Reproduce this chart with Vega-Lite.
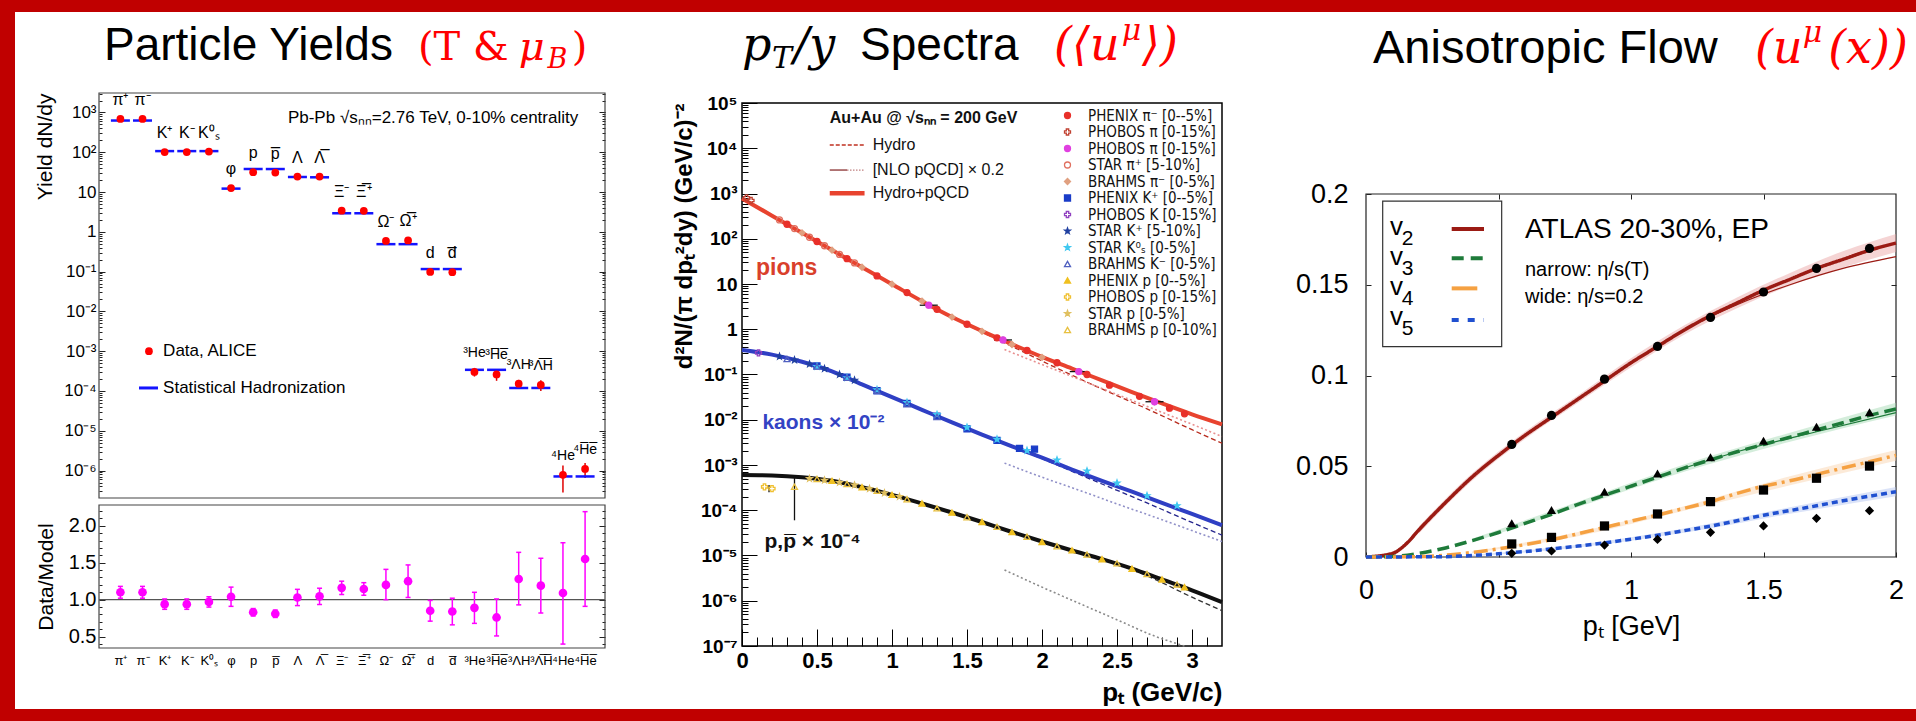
{
"$schema":"https://vega.github.io/schema/vega-lite/v6.json",
"width":1916,"height":721,
"autosize":{"type":"fit","contains":"padding"},
"padding":0,
"background":"white",
"config":{
 "view":{"stroke":null},
 "axis":{"domain":false,"grid":false,"labelColor":"#000","tickColor":"#222","titleColor":"#000","labelFont":"Liberation Sans","titleFont":"Liberation Sans","titleFontWeight":"normal","labelOverlap":false,"labelFlush":false,"labelBound":false},
 "text":{"font":"Liberation Sans","color":"#000"}
},
"data":{"name":"one"},
"datasets":{
 "one":[{}],
 "p1":[
  {"i":0,"name":"π⁺","d":690,"lo":690,"hi":690,"m":628,"r":1.10,"rlo":1.02,"rhi":1.18},
  {"i":1,"name":"π⁻","d":690,"lo":690,"hi":690,"m":628,"r":1.10,"rlo":1.02,"rhi":1.18},
  {"i":2,"name":"K⁺","d":101,"lo":101,"hi":101,"m":107,"r":0.94,"rlo":0.87,"rhi":1.01},
  {"i":3,"name":"K⁻","d":101,"lo":101,"hi":101,"m":107,"r":0.94,"rlo":0.87,"rhi":1.01},
  {"i":4,"name":"K⁰ₛ","d":104,"lo":104,"hi":104,"m":107,"r":0.97,"rlo":0.90,"rhi":1.04},
  {"i":5,"name":"φ","d":12.6,"lo":12.6,"hi":12.6,"m":12.2,"r":1.04,"rlo":0.91,"rhi":1.17},
  {"i":6,"name":"p","d":31.5,"lo":31.5,"hi":31.5,"m":37.9,"r":0.83,"rlo":0.78,"rhi":0.88},
  {"i":7,"name":"p\u0305","d":30.8,"lo":30.8,"hi":30.8,"m":37.9,"r":0.81,"rlo":0.76,"rhi":0.86},
  {"i":8,"name":"Λ","d":24.6,"lo":24.6,"hi":24.6,"m":23.9,"r":1.03,"rlo":0.92,"rhi":1.14},
  {"i":9,"name":"Λ\u0305","d":24.6,"lo":24.6,"hi":24.6,"m":23.5,"r":1.045,"rlo":0.935,"rhi":1.155},
  {"i":10,"name":"Ξ⁻","d":3.39,"lo":3.39,"hi":3.39,"m":2.93,"r":1.16,"rlo":1.07,"rhi":1.25},
  {"i":11,"name":"Ξ\u0305⁺","d":3.37,"lo":3.37,"hi":3.37,"m":2.93,"r":1.145,"rlo":1.06,"rhi":1.23},
  {"i":12,"name":"Ω⁻","d":0.59,"lo":0.59,"hi":0.59,"m":0.49,"r":1.20,"rlo":1.0,"rhi":1.41},
  {"i":13,"name":"Ω\u0305⁺","d":0.61,"lo":0.61,"hi":0.61,"m":0.49,"r":1.25,"rlo":1.03,"rhi":1.47},
  {"i":14,"name":"d","d":0.098,"lo":0.098,"hi":0.098,"m":0.116,"r":0.85,"rlo":0.71,"rhi":0.99},
  {"i":15,"name":"d\u0305","d":0.097,"lo":0.097,"hi":0.097,"m":0.116,"r":0.84,"rlo":0.66,"rhi":1.02},
  {"i":16,"name":"³He","d":3.0e-4,"lo":2.3e-4,"hi":3.8e-4,"m":3.4e-4,"r":0.89,"rlo":0.68,"rhi":1.10},
  {"i":17,"name":"³H\u0305e\u0305","d":2.6e-4,"lo":1.8e-4,"hi":3.5e-4,"m":3.4e-4,"r":0.76,"rlo":0.51,"rhi":1.01},
  {"i":18,"name":"³ΛH","d":1.52e-4,"lo":1.15e-4,"hi":1.9e-4,"m":1.19e-4,"r":1.28,"rlo":0.93,"rhi":1.64},
  {"i":19,"name":"³Λ\u0305H\u0305","d":1.42e-4,"lo":1.0e-4,"hi":1.85e-4,"m":1.19e-4,"r":1.19,"rlo":0.82,"rhi":1.56},
  {"i":20,"name":"⁴He","d":7.8e-7,"lo":2.8e-7,"hi":1.33e-6,"m":7.1e-7,"r":1.09,"rlo":0.40,"rhi":1.77},
  {"i":21,"name":"⁴H\u0305e\u0305","d":1.1e-6,"lo":6.5e-7,"hi":1.55e-6,"m":7.1e-7,"r":1.55,"rlo":0.91,"rhi":2.19}
 ],
 "curves":[
  {"sp":"pic","pt":0,"v":776},{"sp":"pic","pt":0.2,"v":324},{"sp":"pic","pt":0.4,"v":135},{"sp":"pic","pt":0.6,"v":56.2},{"sp":"pic","pt":0.8,"v":23.4},{"sp":"pic","pt":1.0,"v":9.89},{"sp":"pic","pt":1.2,"v":4.17},{"sp":"pic","pt":1.4,"v":1.86},{"sp":"pic","pt":1.6,"v":0.912},{"sp":"pic","pt":1.8,"v":0.468},{"sp":"pic","pt":2.0,"v":0.245},{"sp":"pic","pt":2.2,"v":0.135},{"sp":"pic","pt":2.4,"v":0.0741},{"sp":"pic","pt":2.6,"v":0.0407},{"sp":"pic","pt":2.8,"v":0.0229},{"sp":"pic","pt":3.0,"v":0.0132},{"sp":"pic","pt":3.2,"v":0.00794},
  {"sp":"kc","pt":0,"v":0.347},{"sp":"kc","pt":0.2,"v":0.275},{"sp":"kc","pt":0.4,"v":0.191},{"sp":"kc","pt":0.6,"v":0.117},{"sp":"kc","pt":0.8,"v":0.0603},{"sp":"kc","pt":1.0,"v":0.0316},{"sp":"kc","pt":1.2,"v":0.0166},{"sp":"kc","pt":1.4,"v":0.00871},{"sp":"kc","pt":1.6,"v":0.00468},{"sp":"kc","pt":1.8,"v":0.00257},{"sp":"kc","pt":2.0,"v":0.00145},{"sp":"kc","pt":2.2,"v":0.000794},{"sp":"kc","pt":2.4,"v":0.000447},{"sp":"kc","pt":2.6,"v":0.000257},{"sp":"kc","pt":2.8,"v":0.000145},{"sp":"kc","pt":3.0,"v":8.32e-5},{"sp":"kc","pt":3.2,"v":4.68e-5},
  {"sp":"pc","pt":0,"v":6.03e-4},{"sp":"pc","pt":0.2,"v":5.89e-4},{"sp":"pc","pt":0.4,"v":5.37e-4},{"sp":"pc","pt":0.6,"v":4.47e-4},{"sp":"pc","pt":0.8,"v":3.24e-4},{"sp":"pc","pt":1.0,"v":2.19e-4},{"sp":"pc","pt":1.2,"v":1.41e-4},{"sp":"pc","pt":1.4,"v":8.91e-5},{"sp":"pc","pt":1.6,"v":5.5e-5},{"sp":"pc","pt":1.8,"v":3.31e-5},{"sp":"pc","pt":2.0,"v":2.04e-5},{"sp":"pc","pt":2.2,"v":1.29e-5},{"sp":"pc","pt":2.4,"v":8.32e-6},{"sp":"pc","pt":2.6,"v":5.13e-6},{"sp":"pc","pt":2.8,"v":2.95e-6},{"sp":"pc","pt":3.0,"v":1.7e-6},{"sp":"pc","pt":3.2,"v":9.33e-7}
 ],
 "hydro":[
  {"sp":"pih","pt":1.2,"v":4.17},{"sp":"pih","pt":1.5,"v":1.26},{"sp":"pih","pt":1.8,"v":0.417},{"sp":"pih","pt":2.1,"v":0.138},{"sp":"pih","pt":2.4,"v":0.0479},{"sp":"pih","pt":2.7,"v":0.0174},{"sp":"pih","pt":3.0,"v":0.00603},{"sp":"pih","pt":3.2,"v":0.00302},
  {"sp":"kh","pt":1.6,"v":0.00468},{"sp":"kh","pt":1.8,"v":0.00257},{"sp":"kh","pt":2.1,"v":0.001},{"sp":"kh","pt":2.4,"v":0.00038},{"sp":"kh","pt":2.7,"v":0.000145},{"sp":"kh","pt":3.0,"v":5.37e-5},{"sp":"kh","pt":3.2,"v":2.82e-5},
  {"sp":"ph","pt":2.2,"v":1.29e-5},{"sp":"ph","pt":2.4,"v":8.32e-6},{"sp":"ph","pt":2.7,"v":3.55e-6},{"sp":"ph","pt":3.0,"v":1.2e-6},{"sp":"ph","pt":3.2,"v":6.03e-7}
 ],
 "pqcd":[
  {"sp":"piq","pt":1.75,"v":0.355},{"sp":"piq","pt":2.0,"v":0.166},{"sp":"piq","pt":2.25,"v":0.0776},{"sp":"piq","pt":2.5,"v":0.0363},{"sp":"piq","pt":2.75,"v":0.017},{"sp":"piq","pt":3.0,"v":0.00794},{"sp":"piq","pt":3.2,"v":0.00427},
  {"sp":"kq","pt":1.75,"v":0.0011},{"sp":"kq","pt":2.0,"v":0.000537},{"sp":"kq","pt":2.25,"v":0.000275},{"sp":"kq","pt":2.5,"v":0.000138},{"sp":"kq","pt":2.75,"v":7.08e-5},{"sp":"kq","pt":3.0,"v":3.55e-5},{"sp":"kq","pt":3.2,"v":2.04e-5},
  {"sp":"pq","pt":1.75,"v":4.79e-6},{"sp":"pq","pt":2.0,"v":2.0e-6},{"sp":"pq","pt":2.25,"v":8.7e-7},{"sp":"pq","pt":2.5,"v":3.8e-7},{"sp":"pq","pt":2.75,"v":1.66e-7},{"sp":"pq","pt":2.95,"v":1.0e-7}
 ],
 "pts":[
  {"e":1,"pt":0.3,"v":209},{"e":1,"pt":0.5,"v":87},{"e":1,"pt":0.7,"v":36.3},{"e":1,"pt":0.9,"v":15.1},{"e":1,"pt":1.1,"v":6.46},{"e":1,"pt":1.3,"v":2.75},{"e":1,"pt":1.5,"v":1.29},{"e":1,"pt":1.7,"v":0.646},{"e":1,"pt":1.9,"v":0.339},{"e":1,"pt":2.1,"v":0.182},{"e":1,"pt":2.3,"v":0.1},{"e":1,"pt":2.45,"v":0.058},{"e":1,"pt":2.65,"v":0.033},{"e":1,"pt":2.85,"v":0.018},{"e":1,"pt":2.95,"v":0.0135},
  {"e":2,"pt":0.03,"v":800},{"e":2,"pt":0.06,"v":700},
  {"e":3,"pt":1.245,"v":3.4},{"e":3,"pt":1.74,"v":0.58},{"e":3,"pt":2.245,"v":0.116},{"e":3,"pt":2.75,"v":0.025},
  {"e":4,"pt":0.25,"v":260},{"e":4,"pt":0.35,"v":168},{"e":4,"pt":0.45,"v":108},{"e":4,"pt":0.55,"v":70},{"e":4,"pt":0.65,"v":45},{"e":4,"pt":0.75,"v":29.2},
  {"e":5,"pt":0.4,"v":135},{"e":5,"pt":0.6,"v":56},{"e":5,"pt":0.8,"v":23.4},{"e":5,"pt":1.0,"v":9.9},{"e":5,"pt":1.2,"v":4.2},{"e":5,"pt":1.4,"v":1.86},{"e":5,"pt":1.6,"v":0.9},{"e":5,"pt":1.8,"v":0.46},{"e":5,"pt":2.0,"v":0.24},
  {"e":6,"pt":0.5,"v":0.155},{"e":6,"pt":0.7,"v":0.087},{"e":6,"pt":0.9,"v":0.0437},{"e":6,"pt":1.1,"v":0.0229},{"e":6,"pt":1.3,"v":0.012},{"e":6,"pt":1.5,"v":0.0063},{"e":6,"pt":1.7,"v":0.0035},{"e":6,"pt":1.85,"v":0.00234},{"e":6,"pt":1.95,"v":0.00224},
  {"e":7,"pt":0.11,"v":0.3},
  {"e":8,"pt":0.25,"v":0.25},{"e":8,"pt":0.35,"v":0.21},{"e":8,"pt":0.45,"v":0.17},{"e":8,"pt":0.55,"v":0.135},{"e":8,"pt":0.65,"v":0.1},{"e":8,"pt":0.75,"v":0.075},
  {"e":9,"pt":0.5,"v":0.15},{"e":9,"pt":0.7,"v":0.085},{"e":9,"pt":0.9,"v":0.046},{"e":9,"pt":1.1,"v":0.024},{"e":9,"pt":1.3,"v":0.013},{"e":9,"pt":1.5,"v":0.0068},{"e":9,"pt":1.7,"v":0.0037},{"e":9,"pt":1.9,"v":0.0021},{"e":9,"pt":2.1,"v":0.00129},{"e":9,"pt":2.3,"v":0.00074},{"e":9,"pt":2.5,"v":0.0004},{"e":9,"pt":2.7,"v":0.00021},{"e":9,"pt":2.9,"v":0.000126},
  {"e":10,"pt":0.3,"v":0.22},{"e":10,"pt":0.5,"v":0.15},{"e":10,"pt":0.7,"v":0.085},{"e":10,"pt":0.9,"v":0.044},{"e":10,"pt":1.1,"v":0.022},{"e":10,"pt":1.3,"v":0.0115},
  {"e":11,"pt":0.6,"v":4.47e-4},{"e":11,"pt":0.8,"v":3.24e-4},{"e":11,"pt":1.0,"v":2.19e-4},{"e":11,"pt":1.2,"v":1.41e-4},{"e":11,"pt":1.4,"v":8.9e-5},{"e":11,"pt":1.6,"v":5.5e-5},{"e":11,"pt":1.8,"v":3.3e-5},{"e":11,"pt":2.0,"v":2.0e-5},{"e":11,"pt":2.2,"v":1.3e-5},{"e":11,"pt":2.4,"v":8.3e-6},{"e":11,"pt":2.6,"v":5.1e-6},{"e":11,"pt":2.8,"v":2.95e-6},{"e":11,"pt":2.95,"v":2.0e-6},
  {"e":12,"pt":0.15,"v":3.3e-4},{"e":12,"pt":0.2,"v":3.0e-4},
  {"e":13,"pt":0.45,"v":5.0e-4},{"e":13,"pt":0.55,"v":4.6e-4},{"e":13,"pt":0.65,"v":4.1e-4},{"e":13,"pt":0.75,"v":3.6e-4},{"e":13,"pt":0.85,"v":3.0e-4},{"e":13,"pt":0.95,"v":2.4e-4},{"e":13,"pt":1.05,"v":2.0e-4},
  {"e":14,"pt":0.5,"v":4.9e-4},{"e":14,"pt":0.7,"v":3.8e-4},{"e":14,"pt":0.9,"v":2.7e-4},{"e":14,"pt":1.1,"v":1.75e-4},{"e":14,"pt":1.3,"v":1.1e-4},{"e":14,"pt":1.5,"v":7e-5},{"e":14,"pt":1.7,"v":4.3e-5},{"e":14,"pt":1.9,"v":2.6e-5},{"e":14,"pt":2.1,"v":1.6e-5},{"e":14,"pt":2.3,"v":1.05e-5},{"e":14,"pt":2.5,"v":6.7e-6},{"e":14,"pt":2.7,"v":3.9e-6},{"e":14,"pt":2.9,"v":2.3e-6},{"e":14,"pt":0.35,"v":3.3e-4}
 ],
 "perr":[
  {"pt":1.245,"xlo":1.185,"xhi":1.305,"v":3.4,"lo":2.9,"hi":3.95},
  {"pt":1.74,"xlo":1.68,"xhi":1.8,"v":0.58,"lo":0.49,"hi":0.68},
  {"pt":2.245,"xlo":2.185,"xhi":2.305,"v":0.116,"lo":0.098,"hi":0.136},
  {"pt":2.75,"xlo":2.69,"xhi":2.81,"v":0.025,"lo":0.021,"hi":0.03},
  {"pt":0.35,"xlo":0.35,"xhi":0.35,"v":3.3e-4,"lo":6e-5,"hi":6e-4},
  {"pt":0.18,"xlo":0.18,"xhi":0.18,"v":3.0e-4,"lo":2.5e-4,"hi":3.6e-4}
 ],
 "fpts":[
  {"n":"v2","pt":0.55,"v":0.062},{"n":"v2","pt":0.7,"v":0.078},{"n":"v2","pt":0.9,"v":0.098},{"n":"v2","pt":1.1,"v":0.116},{"n":"v2","pt":1.3,"v":0.132},{"n":"v2","pt":1.5,"v":0.146},{"n":"v2","pt":1.7,"v":0.159},{"n":"v2","pt":1.9,"v":0.170},
  {"n":"v3","pt":0.55,"v":0.0186},{"n":"v3","pt":0.7,"v":0.0259},{"n":"v3","pt":0.9,"v":0.036},{"n":"v3","pt":1.1,"v":0.046},{"n":"v3","pt":1.3,"v":0.055},{"n":"v3","pt":1.5,"v":0.064},{"n":"v3","pt":1.7,"v":0.0718},{"n":"v3","pt":1.9,"v":0.0797},
  {"n":"v4","pt":0.55,"v":0.0072},{"n":"v4","pt":0.7,"v":0.0108},{"n":"v4","pt":0.9,"v":0.0171},{"n":"v4","pt":1.1,"v":0.0237},{"n":"v4","pt":1.3,"v":0.0305},{"n":"v4","pt":1.5,"v":0.0369},{"n":"v4","pt":1.7,"v":0.0434},{"n":"v4","pt":1.9,"v":0.0501},
  {"n":"v5","pt":0.55,"v":0.002},{"n":"v5","pt":0.7,"v":0.0033},{"n":"v5","pt":0.9,"v":0.0066},{"n":"v5","pt":1.1,"v":0.0097},{"n":"v5","pt":1.3,"v":0.0136},{"n":"v5","pt":1.5,"v":0.0171},{"n":"v5","pt":1.7,"v":0.0213},{"n":"v5","pt":1.9,"v":0.0255}
 ],
 "flines":[
  {"n":"v2","pt":0,"v":0},{"n":"v2","pt":0.1,"v":0.002},{"n":"v2","pt":0.15,"v":0.007},{"n":"v2","pt":0.2,"v":0.015},{"n":"v2","pt":0.3,"v":0.030},{"n":"v2","pt":0.4,"v":0.044},{"n":"v2","pt":0.5,"v":0.056},{"n":"v2","pt":0.6,"v":0.067},{"n":"v2","pt":0.7,"v":0.077},{"n":"v2","pt":0.8,"v":0.087},{"n":"v2","pt":0.9,"v":0.097},{"n":"v2","pt":1.0,"v":0.107},{"n":"v2","pt":1.1,"v":0.116},{"n":"v2","pt":1.2,"v":0.125},{"n":"v2","pt":1.3,"v":0.133},{"n":"v2","pt":1.4,"v":0.140},{"n":"v2","pt":1.5,"v":0.147},{"n":"v2","pt":1.6,"v":0.153},{"n":"v2","pt":1.7,"v":0.159},{"n":"v2","pt":1.8,"v":0.164},{"n":"v2","pt":1.9,"v":0.169},{"n":"v2","pt":2.0,"v":0.173},
  {"n":"v3","pt":0,"v":0},{"n":"v3","pt":0.1,"v":0.0003},{"n":"v3","pt":0.2,"v":0.002},{"n":"v3","pt":0.3,"v":0.005},{"n":"v3","pt":0.4,"v":0.009},{"n":"v3","pt":0.5,"v":0.0135},{"n":"v3","pt":0.6,"v":0.0185},{"n":"v3","pt":0.7,"v":0.0235},{"n":"v3","pt":0.8,"v":0.029},{"n":"v3","pt":0.9,"v":0.034},{"n":"v3","pt":1.0,"v":0.039},{"n":"v3","pt":1.1,"v":0.044},{"n":"v3","pt":1.2,"v":0.049},{"n":"v3","pt":1.3,"v":0.0535},{"n":"v3","pt":1.4,"v":0.058},{"n":"v3","pt":1.5,"v":0.062},{"n":"v3","pt":1.6,"v":0.066},{"n":"v3","pt":1.7,"v":0.070},{"n":"v3","pt":1.8,"v":0.074},{"n":"v3","pt":1.9,"v":0.078},{"n":"v3","pt":2.0,"v":0.0815},
  {"n":"v4","pt":0,"v":0},{"n":"v4","pt":0.2,"v":0.0002},{"n":"v4","pt":0.3,"v":0.001},{"n":"v4","pt":0.4,"v":0.0025},{"n":"v4","pt":0.5,"v":0.0045},{"n":"v4","pt":0.6,"v":0.0068},{"n":"v4","pt":0.7,"v":0.0095},{"n":"v4","pt":0.8,"v":0.0128},{"n":"v4","pt":0.9,"v":0.0163},{"n":"v4","pt":1.0,"v":0.0198},{"n":"v4","pt":1.1,"v":0.0231},{"n":"v4","pt":1.2,"v":0.0268},{"n":"v4","pt":1.3,"v":0.0305},{"n":"v4","pt":1.4,"v":0.035},{"n":"v4","pt":1.5,"v":0.039},{"n":"v4","pt":1.6,"v":0.042},{"n":"v4","pt":1.7,"v":0.0455},{"n":"v4","pt":1.8,"v":0.049},{"n":"v4","pt":1.9,"v":0.0525},{"n":"v4","pt":2.0,"v":0.056},
  {"n":"v5","pt":0,"v":0},{"n":"v5","pt":0.3,"v":0.0002},{"n":"v5","pt":0.4,"v":0.0008},{"n":"v5","pt":0.5,"v":0.0018},{"n":"v5","pt":0.6,"v":0.003},{"n":"v5","pt":0.7,"v":0.0045},{"n":"v5","pt":0.8,"v":0.006},{"n":"v5","pt":0.9,"v":0.0078},{"n":"v5","pt":1.0,"v":0.0098},{"n":"v5","pt":1.1,"v":0.012},{"n":"v5","pt":1.2,"v":0.0145},{"n":"v5","pt":1.3,"v":0.017},{"n":"v5","pt":1.4,"v":0.020},{"n":"v5","pt":1.5,"v":0.023},{"n":"v5","pt":1.6,"v":0.0256},{"n":"v5","pt":1.7,"v":0.0282},{"n":"v5","pt":1.8,"v":0.031},{"n":"v5","pt":1.9,"v":0.0335},{"n":"v5","pt":2.0,"v":0.036}
 ],
 "fnarrow":[
  {"n":"n2","pt":1.0,"v":0.107},{"n":"n2","pt":1.2,"v":0.125},{"n":"n2","pt":1.4,"v":0.139},{"n":"n2","pt":1.6,"v":0.150},{"n":"n2","pt":1.8,"v":0.159},{"n":"n2","pt":2.0,"v":0.1655},
  {"n":"n3","pt":1.2,"v":0.049},{"n":"n3","pt":1.4,"v":0.058},{"n":"n3","pt":1.7,"v":0.069},{"n":"n3","pt":2.0,"v":0.0795}
 ],
 "fband":[
  {"n":"b2","pt":0.2,"lo":0.013,"hi":0.017},{"n":"b2","pt":0.4,"lo":0.042,"hi":0.046},{"n":"b2","pt":0.6,"lo":0.065,"hi":0.069},{"n":"b2","pt":0.8,"lo":0.085,"hi":0.089},{"n":"b2","pt":1.0,"lo":0.1045,"hi":0.1095},{"n":"b2","pt":1.2,"lo":0.1225,"hi":0.1275},{"n":"b2","pt":1.4,"lo":0.137,"hi":0.143},{"n":"b2","pt":1.6,"lo":0.1495,"hi":0.1565},{"n":"b2","pt":1.8,"lo":0.1595,"hi":0.1685},{"n":"b2","pt":2.0,"lo":0.168,"hi":0.178},
  {"n":"b3","pt":0.4,"lo":0.008,"hi":0.010},{"n":"b3","pt":0.8,"lo":0.0275,"hi":0.0305},{"n":"b3","pt":1.2,"lo":0.047,"hi":0.051},{"n":"b3","pt":1.6,"lo":0.0635,"hi":0.0685},{"n":"b3","pt":2.0,"lo":0.078,"hi":0.085},
  {"n":"b4","pt":0.4,"lo":0.002,"hi":0.003},{"n":"b4","pt":0.8,"lo":0.0115,"hi":0.0138},{"n":"b4","pt":1.2,"lo":0.0255,"hi":0.028},{"n":"b4","pt":1.6,"lo":0.0395,"hi":0.0445},{"n":"b4","pt":2.0,"lo":0.053,"hi":0.059},
  {"n":"b5","pt":0.4,"lo":0.0004,"hi":0.0012},{"n":"b5","pt":0.8,"lo":0.0052,"hi":0.0068},{"n":"b5","pt":1.2,"lo":0.0133,"hi":0.0157},{"n":"b5","pt":1.6,"lo":0.0238,"hi":0.0274},{"n":"b5","pt":2.0,"lo":0.0335,"hi":0.0385}
 ]
},
"layer":[
 {
  "layer":[
   {
    "layer":[
     {"mark":{"type":"rect","fillOpacity":0,"stroke":"#444","strokeWidth":1.2},
      "encoding":{"x":{"datum":-0.967,"scale":{"domain":[-0.967,21.9],"range":[99,605],"nice":false,"zero":false},"axis":null},"x2":{"datum":21.9},
       "y":{"datum":2.04e-7,"scale":{"type":"log","domain":[2.04e-7,3090],"range":[498,93],"nice":false},"axis":{"orient":"left","offset":-102,"tickSize":3,"tickCount":100,"labels":false,"title":null}},"y2":{"datum":3090}}},
     {"data":{"name":"p1"},"mark":{"type":"rule","color":"#e00000","strokeWidth":1.5},
      "encoding":{"x":{"field":"i","type":"quantitative","scale":{"domain":[-0.967,21.9],"range":[99,605],"nice":false,"zero":false},"axis":null},
       "y":{"field":"lo","type":"quantitative","scale":{"type":"log","domain":[2.04e-7,3090],"range":[498,93],"nice":false},"axis":{"orient":"left","offset":-105,"tickSize":6,"values":[1e-6,1e-5,1e-4,0.001,0.01,0.1,1,10,100,1000],"labelExpr":"['10⁻⁶','10⁻⁵','10⁻⁴','10⁻³','10⁻²','10⁻¹','1','10','10²','10³'][round(log(datum.value)/LN10)+6]","labelFontSize":17,"labelPadding":3,"title":"Yield dN/dy","titleFontSize":21,"titleAnchor":"end","titlePadding":8}},"y2":{"field":"hi"}}},
     {"data":{"name":"p1"},"mark":{"type":"tick","orient":"horizontal","color":"#1414ff","thickness":2.5,"size":19,"opacity":1},
      "encoding":{"x":{"field":"i","type":"quantitative","scale":{"domain":[-0.967,21.9],"range":[99,605],"nice":false,"zero":false},"axis":null},
       "y":{"field":"m","type":"quantitative","scale":{"type":"log","domain":[2.04e-7,3090],"range":[498,93],"nice":false},"axis":null}}},
     {"data":{"name":"p1"},"mark":{"type":"circle","color":"#ff0000","size":60,"opacity":1},
      "encoding":{"x":{"field":"i","type":"quantitative","scale":{"domain":[-0.967,21.9],"range":[99,605],"nice":false,"zero":false},"axis":null},
       "y":{"field":"d","type":"quantitative","scale":{"type":"log","domain":[2.04e-7,3090],"range":[498,93],"nice":false},"axis":null}}},
     {"data":{"name":"p1"},"mark":{"type":"text","dy":-19,"baseline":"middle"},
      "encoding":{"x":{"field":"i","type":"quantitative","scale":{"domain":[-0.967,21.9],"range":[99,605],"nice":false,"zero":false},"axis":null},
       "y":{"field":"d","type":"quantitative","scale":{"type":"log","domain":[2.04e-7,3090],"range":[498,93],"nice":false},"axis":null},"text":{"field":"name"},
       "size":{"condition":{"test":"datum.i >= 16","value":14},"value":16}}},
     {"mark":{"type":"text","fontSize":17,"align":"right","baseline":"middle"},
      "encoding":{"x":{"datum":20.69,"scale":{"domain":[-0.967,21.9],"range":[99,605],"nice":false,"zero":false},"axis":null},
       "y":{"datum":736,"scale":{"type":"log","domain":[2.04e-7,3090],"range":[498,93],"nice":false},"axis":{"orient":"right","offset":-1314,"tickSize":3,"tickCount":100,"labels":false,"title":null}},"text":{"value":"Pb-Pb √sₙₙ=2.76 TeV, 0-10% centrality"}}},
     {"mark":{"type":"circle","color":"#ff0000","size":60,"opacity":1},
      "encoding":{"x":{"datum":1.29,"scale":{"domain":[-0.967,21.9],"range":[99,605],"nice":false,"zero":false},"axis":null},
       "y":{"datum":0.001,"scale":{"type":"log","domain":[2.04e-7,3090],"range":[498,93],"nice":false},"axis":{"orient":"right","offset":-1317,"tickSize":6,"values":[1e-6,1e-5,1e-4,0.001,0.01,0.1,1,10,100,1000],"labels":false,"title":null}}}},
     {"mark":{"type":"text","fontSize":17,"align":"left","baseline":"middle"},
      "encoding":{"x":{"datum":1.93,"scale":{"domain":[-0.967,21.9],"range":[99,605],"nice":false,"zero":false},"axis":null},
       "y":{"datum":0.001,"scale":{"type":"log","domain":[2.04e-7,3090],"range":[498,93],"nice":false},"axis":null},"text":{"value":"Data, ALICE"}}},
     {"mark":{"type":"rule","color":"#1414ff","strokeWidth":3},
      "encoding":{"x":{"datum":0.84,"scale":{"domain":[-0.967,21.9],"range":[99,605],"nice":false,"zero":false},"axis":null},"x2":{"datum":1.7},
       "y":{"datum":1.19e-4,"scale":{"type":"log","domain":[2.04e-7,3090],"range":[498,93],"nice":false},"axis":null}}},
     {"mark":{"type":"text","fontSize":17,"align":"left","baseline":"middle"},
      "encoding":{"x":{"datum":1.93,"scale":{"domain":[-0.967,21.9],"range":[99,605],"nice":false,"zero":false},"axis":null},
       "y":{"datum":1.19e-4,"scale":{"type":"log","domain":[2.04e-7,3090],"range":[498,93],"nice":false},"axis":null},"text":{"value":"Statistical Hadronization"}}},
     {"mark":{"type":"text","fontSize":46,"align":"left","baseline":"alphabetic"},
      "encoding":{"x":{"datum":-0.741,"scale":{"domain":[-0.967,21.9],"range":[99,605],"nice":false,"zero":false},"axis":null},
       "y":{"datum":21090,"scale":{"type":"log","domain":[2.04e-7,3090],"range":[498,93],"nice":false},"axis":null},"text":{"value":"Particle Yields"}}},
     {"mark":{"type":"text","fontSize":40,"align":"left","baseline":"alphabetic","font":"DejaVu Serif","color":"#ff0000"},
      "encoding":{"x":{"datum":13.45,"scale":{"domain":[-0.967,21.9],"range":[99,605],"nice":false,"zero":false},"axis":null},
       "y":{"datum":21090,"scale":{"type":"log","domain":[2.04e-7,3090],"range":[498,93],"nice":false},"axis":null},"text":{"value":"(T &"}}},
     {"mark":{"type":"text","fontSize":40,"align":"left","baseline":"alphabetic","font":"DejaVu Serif","fontStyle":"italic","color":"#ff0000"},
      "encoding":{"x":{"datum":18.0,"scale":{"domain":[-0.967,21.9],"range":[99,605],"nice":false,"zero":false},"axis":null},
       "y":{"datum":21090,"scale":{"type":"log","domain":[2.04e-7,3090],"range":[498,93],"nice":false},"axis":null},"text":{"value":"μ"}}},
     {"mark":{"type":"text","fontSize":27,"align":"left","baseline":"alphabetic","font":"DejaVu Serif","fontStyle":"italic","color":"#ff0000"},
      "encoding":{"x":{"datum":19.3,"scale":{"domain":[-0.967,21.9],"range":[99,605],"nice":false,"zero":false},"axis":null},
       "y":{"datum":13270,"scale":{"type":"log","domain":[2.04e-7,3090],"range":[498,93],"nice":false},"axis":null},"text":{"value":"B"}}},
     {"mark":{"type":"text","fontSize":40,"align":"left","baseline":"alphabetic","font":"DejaVu Serif","color":"#ff0000"},
      "encoding":{"x":{"datum":20.4,"scale":{"domain":[-0.967,21.9],"range":[99,605],"nice":false,"zero":false},"axis":null},
       "y":{"datum":21090,"scale":{"type":"log","domain":[2.04e-7,3090],"range":[498,93],"nice":false},"axis":null},"text":{"value":")"}}}
    ],
    "resolve":{"axis":{"x":"independent","y":"independent"}}
   },
   {
    "layer":[
     {"mark":{"type":"rect","fillOpacity":0,"stroke":"#444","strokeWidth":1.2},
      "encoding":{"x":{"datum":-0.967,"scale":{"domain":[-0.967,21.9],"range":[99,605],"nice":false,"zero":false},"axis":{"orient":"bottom","offset":-73,"values":[0,1,2,3,4,5,6,7,8,9,10,11,12,13,14,15,16,17,18,19,20,21],"labelExpr":"['π⁺','π⁻','K⁺','K⁻','K⁰ₛ','φ','p','p\u0305','Λ','Λ\u0305','Ξ⁻','Ξ\u0305⁺','Ω⁻','Ω\u0305⁺','d','d\u0305','³He','³H\u0305e\u0305','³ΛH','³Λ\u0305H\u0305','⁴He','⁴H\u0305e\u0305'][datum.value]","ticks":false,"labelPadding":6,"labelFontSize":13,"title":null}},"x2":{"datum":21.9},
       "y":{"datum":0.347,"scale":{"domain":[0.347,2.28],"range":[648,505],"nice":false,"zero":false},"axis":{"orient":"left","offset":-102,"tickSize":3,"values":[0.4,0.6,0.7,0.8,0.9,1.1,1.2,1.3,1.4,1.6,1.7,1.8,1.9,2.1,2.2],"labels":false,"title":null}},"y2":{"datum":2.28}}},
     {"mark":{"type":"rule","color":"#555","strokeWidth":1.2},
      "encoding":{"x":{"datum":-0.967,"scale":{"domain":[-0.967,21.9],"range":[99,605],"nice":false,"zero":false},"axis":null},"x2":{"datum":21.9},
       "y":{"datum":1,"scale":{"domain":[0.347,2.28],"range":[648,505],"nice":false,"zero":false},"axis":{"orient":"left","offset":-105,"tickSize":6,"values":[0.5,1,1.5,2],"labelFontSize":20,"labelPadding":3,"title":"Data/Model","titleFontSize":21,"titlePadding":12}}}},
     {"data":{"name":"p1"},"mark":{"type":"rule","color":"#ff00ff","strokeWidth":1.5},
      "encoding":{"x":{"field":"i","type":"quantitative","scale":{"domain":[-0.967,21.9],"range":[99,605],"nice":false,"zero":false},"axis":null},
       "y":{"field":"rlo","type":"quantitative","scale":{"domain":[0.347,2.28],"range":[648,505],"nice":false,"zero":false},"axis":{"orient":"right","offset":-1314,"tickSize":3,"values":[0.4,0.6,0.7,0.8,0.9,1.1,1.2,1.3,1.4,1.6,1.7,1.8,1.9,2.1,2.2],"labels":false,"title":null}},"y2":{"field":"rhi"}}},
     {"data":{"name":"p1"},"mark":{"type":"tick","orient":"horizontal","color":"#ff00ff","thickness":1.5,"size":5,"opacity":1},
      "encoding":{"x":{"field":"i","type":"quantitative","scale":{"domain":[-0.967,21.9],"range":[99,605],"nice":false,"zero":false},"axis":null},
       "y":{"field":"rlo","type":"quantitative","scale":{"domain":[0.347,2.28],"range":[648,505],"nice":false,"zero":false},"axis":null}}},
     {"data":{"name":"p1"},"mark":{"type":"tick","orient":"horizontal","color":"#ff00ff","thickness":1.5,"size":5,"opacity":1},
      "encoding":{"x":{"field":"i","type":"quantitative","scale":{"domain":[-0.967,21.9],"range":[99,605],"nice":false,"zero":false},"axis":null},
       "y":{"field":"rhi","type":"quantitative","scale":{"domain":[0.347,2.28],"range":[648,505],"nice":false,"zero":false},"axis":null}}},
     {"data":{"name":"p1"},"mark":{"type":"circle","color":"#ff00ff","size":75,"opacity":1},
      "encoding":{"x":{"field":"i","type":"quantitative","scale":{"domain":[-0.967,21.9],"range":[99,605],"nice":false,"zero":false},"axis":null},
       "y":{"field":"r","type":"quantitative","scale":{"domain":[0.347,2.28],"range":[648,505],"nice":false,"zero":false},"axis":{"orient":"right","offset":-1317,"tickSize":6,"values":[0.5,1,1.5,2],"labels":false,"title":null}}}}
    ],
    "resolve":{"axis":{"x":"independent","y":"independent"}}
   }
  ],
  "resolve":{"scale":{"y":"independent"},"axis":{"x":"independent","y":"independent"}}
 },
 {
  "layer":[
   {"mark":{"type":"rect","fillOpacity":0,"stroke":"#000","strokeWidth":1.5},
    "encoding":{"x":{"datum":0,"scale":{"domain":[0,3.2],"range":[742,1222],"nice":false,"zero":false},"axis":{"orient":"bottom","offset":-84,"tickSize":9,"values":[0.1,0.2,0.3,0.4,0.6,0.7,0.8,0.9,1.1,1.2,1.3,1.4,1.6,1.7,1.8,1.9,2.1,2.2,2.3,2.4,2.6,2.7,2.8,2.9,3.1],"labels":false,"title":null,"tickColor":"#000"}},"x2":{"datum":3.2},
     "y":{"datum":1e-7,"scale":{"type":"log","domain":[1e-7,1e5],"range":[646,103],"nice":false},"axis":{"orient":"left","offset":-748,"tickSize":6,"tickCount":100,"labels":false,"title":null,"tickColor":"#000"}},"y2":{"datum":1e5}}},
   {"data":{"name":"hydro"},"mark":{"type":"line","strokeWidth":1.3,"strokeDash":[5,3],"interpolate":"monotone"},
    "encoding":{"x":{"field":"pt","type":"quantitative","scale":{"domain":[0,3.2],"range":[742,1222],"nice":false,"zero":false},"axis":null},
     "y":{"field":"v","type":"quantitative","scale":{"type":"log","domain":[1e-7,1e5],"range":[646,103],"nice":false},"axis":null},
     "color":{"field":"sp","type":"nominal","scale":{"domain":["pih","kh","ph","piq","kq","pq","pic","kc","pc"],"range":["#b82a1c","#24248c","#333333","#e89090","#9090c8","#8a8a8a","#e8432f","#2f3fc4","#111111"]},"legend":null}}},
   {"data":{"name":"pqcd"},"mark":{"type":"line","strokeWidth":1.6,"strokeDash":[2,2.5],"interpolate":"monotone"},
    "encoding":{"x":{"field":"pt","type":"quantitative","scale":{"domain":[0,3.2],"range":[742,1222],"nice":false,"zero":false},"axis":null},
     "y":{"field":"v","type":"quantitative","scale":{"type":"log","domain":[1e-7,1e5],"range":[646,103],"nice":false},"axis":null},
     "color":{"field":"sp","type":"nominal","scale":{"domain":["pih","kh","ph","piq","kq","pq","pic","kc","pc"],"range":["#b82a1c","#24248c","#333333","#e89090","#9090c8","#8a8a8a","#e8432f","#2f3fc4","#111111"]},"legend":null}}},
   {"data":{"name":"curves"},"mark":{"type":"line","strokeWidth":4,"interpolate":"monotone"},
    "encoding":{"x":{"field":"pt","type":"quantitative","scale":{"domain":[0,3.2],"range":[742,1222],"nice":false,"zero":false},"axis":{"orient":"bottom","offset":-92,"tickSize":17,"values":[0,0.5,1,1.5,2,2.5,3],"format":"~g","labelFontSize":22,"labelFontWeight":"bold","labelPadding":4,"tickColor":"#000","title":"pₜ (GeV/c)","titleFontSize":26,"titleFontWeight":"bold","titleAnchor":"end","titlePadding":8}},
     "y":{"field":"v","type":"quantitative","scale":{"type":"log","domain":[1e-7,1e5],"range":[646,103],"nice":false},"axis":{"orient":"left","offset":-757,"tickSize":15,"values":[1e-7,1e-6,1e-5,1e-4,0.001,0.01,0.1,1,10,100,1000,10000,100000],"labelExpr":"['10⁻⁷','10⁻⁶','10⁻⁵','10⁻⁴','10⁻³','10⁻²','10⁻¹','1','10','10²','10³','10⁴','10⁵'][round(log(datum.value)/LN10)+7]","labelFontSize":19,"labelFontWeight":"bold","labelPadding":5,"tickColor":"#000","title":"d²N/(π dpₜ²dy) (GeV/c)⁻²","titleFontSize":24,"titleFontWeight":"bold","titleAnchor":"end","titlePadding":4}},
     "color":{"field":"sp","type":"nominal","scale":{"domain":["pih","kh","ph","piq","kq","pq","pic","kc","pc"],"range":["#b82a1c","#24248c","#333333","#e89090","#9090c8","#8a8a8a","#e8432f","#2f3fc4","#111111"]},"legend":null}}},
   {"data":{"name":"perr"},"mark":{"type":"rule","color":"#111","strokeWidth":1.3},
    "encoding":{"x":{"field":"pt","type":"quantitative","scale":{"domain":[0,3.2],"range":[742,1222],"nice":false,"zero":false},"axis":null},
     "y":{"field":"lo","type":"quantitative","scale":{"type":"log","domain":[1e-7,1e5],"range":[646,103],"nice":false},"axis":null},"y2":{"field":"hi"}}},
   {"data":{"name":"perr"},"mark":{"type":"rule","color":"#111","strokeWidth":1.3},
    "encoding":{"x":{"field":"xlo","type":"quantitative","scale":{"domain":[0,3.2],"range":[742,1222],"nice":false,"zero":false},"axis":null},"x2":{"field":"xhi"},
     "y":{"field":"v","type":"quantitative","scale":{"type":"log","domain":[1e-7,1e5],"range":[646,103],"nice":false},"axis":null}}},
   {"data":{"name":"pts"},"mark":{"type":"point","size":36,"strokeWidth":1.3,"opacity":1},
    "encoding":{"x":{"field":"pt","type":"quantitative","scale":{"domain":[0,3.2],"range":[742,1222],"nice":false,"zero":false},"axis":null},
     "y":{"field":"v","type":"quantitative","scale":{"type":"log","domain":[1e-7,1e5],"range":[646,103],"nice":false},"axis":null},
     "shape":{"field":"e","type":"nominal","scale":{"domain":[1,2,3,4,5,6,7,8,9,10,11,12,13,14],"range":["circle","cross","circle","circle","diamond","square","cross","M0,-1L0.24,-0.33L0.95,-0.31L0.38,0.12L0.59,0.81L0,0.4L-0.59,0.81L-0.38,0.12L-0.95,-0.31L-0.24,-0.33Z","M0,-1L0.24,-0.33L0.95,-0.31L0.38,0.12L0.59,0.81L0,0.4L-0.59,0.81L-0.38,0.12L-0.95,-0.31L-0.24,-0.33Z","triangle-up","triangle-up","cross","M0,-1L0.24,-0.33L0.95,-0.31L0.38,0.12L0.59,0.81L0,0.4L-0.59,0.81L-0.38,0.12L-0.95,-0.31L-0.24,-0.33Z","triangle-up"]},
      "legend":{"orient":"none","legendX":1060,"legendY":108,"title":null,"labelExpr":"['','PHENIX π⁻ [0--5%]','PHOBOS π [0-15%]','PHOBOS π [0-15%]','STAR π⁺ [5-10%]','BRAHMS π⁻ [0-5%]','PHENIX K⁺ [0--5%]','PHOBOS K [0-15%]','STAR K⁺ [5-10%]','STAR K⁰ₛ [0-5%]','BRAHMS K⁻ [0-5%]','PHENIX p [0--5%]','PHOBOS p [0-15%]','STAR p [0-5%]','BRAHMS p [0-10%]'][datum.value]","labelFontSize":15,"labelFont":"Liberation Sans Narrow, DejaVu Sans Condensed, Liberation Sans","labelColor":"#111","symbolSize":36,"symbolStrokeWidth":1.3,"rowPadding":0.5,"labelOffset":13,"labelLimit":400,"padding":0}},
     "fill":{"field":"e","type":"nominal","scale":{"domain":[1,2,3,4,5,6,7,8,9,10,11,12,13,14],"range":["#e8302a","transparent","#e040e0","transparent","#e0a080","#1a3cc8","transparent","#2040a0","#40c8f0","transparent","#f0c020","transparent","#e0c060","transparent"]},
      "legend":{"orient":"none","legendX":1060,"legendY":108,"title":null,"labelExpr":"['','PHENIX π⁻ [0--5%]','PHOBOS π [0-15%]','PHOBOS π [0-15%]','STAR π⁺ [5-10%]','BRAHMS π⁻ [0-5%]','PHENIX K⁺ [0--5%]','PHOBOS K [0-15%]','STAR K⁺ [5-10%]','STAR K⁰ₛ [0-5%]','BRAHMS K⁻ [0-5%]','PHENIX p [0--5%]','PHOBOS p [0-15%]','STAR p [0-5%]','BRAHMS p [0-10%]'][datum.value]","labelFontSize":15,"labelFont":"Liberation Sans Narrow, DejaVu Sans Condensed, Liberation Sans","labelColor":"#111","symbolSize":36,"symbolStrokeWidth":1.3,"rowPadding":0.5,"labelOffset":13,"labelLimit":400,"padding":0}},
     "stroke":{"field":"e","type":"nominal","scale":{"domain":[1,2,3,4,5,6,7,8,9,10,11,12,13,14],"range":["#e8302a","#c04030","#e040e0","#e07060","#e0a080","#1a3cc8","#9040c0","#2040a0","#40c8f0","#5060c0","#f0c020","#f0c030","#e0c060","#e8c040"]},
      "legend":{"orient":"none","legendX":1060,"legendY":108,"title":null,"labelExpr":"['','PHENIX π⁻ [0--5%]','PHOBOS π [0-15%]','PHOBOS π [0-15%]','STAR π⁺ [5-10%]','BRAHMS π⁻ [0-5%]','PHENIX K⁺ [0--5%]','PHOBOS K [0-15%]','STAR K⁺ [5-10%]','STAR K⁰ₛ [0-5%]','BRAHMS K⁻ [0-5%]','PHENIX p [0--5%]','PHOBOS p [0-15%]','STAR p [0-5%]','BRAHMS p [0-10%]'][datum.value]","labelFontSize":15,"labelFont":"Liberation Sans Narrow, DejaVu Sans Condensed, Liberation Sans","labelColor":"#111","symbolSize":36,"symbolStrokeWidth":1.3,"rowPadding":0.5,"labelOffset":13,"labelLimit":400,"padding":0}}}},
   {"mark":{"type":"text","fontSize":23,"fontWeight":"bold","align":"left","baseline":"middle","color":"#d9402b"},
    "encoding":{"x":{"datum":0.093,"scale":{"domain":[0,3.2],"range":[742,1222],"nice":false,"zero":false},"axis":null},
     "y":{"datum":22.6,"scale":{"type":"log","domain":[1e-7,1e5],"range":[646,103],"nice":false},"axis":null},"text":{"value":"pions"}}},
   {"mark":{"type":"text","fontSize":21,"fontWeight":"bold","align":"left","baseline":"middle","color":"#3343c4"},
    "encoding":{"x":{"datum":0.136,"scale":{"domain":[0,3.2],"range":[742,1222],"nice":false,"zero":false},"axis":null},
     "y":{"datum":0.00836,"scale":{"type":"log","domain":[1e-7,1e5],"range":[646,103],"nice":false},"axis":null},"text":{"value":"kaons × 10⁻²"}}},
   {"mark":{"type":"text","fontSize":21,"fontWeight":"bold","align":"left","baseline":"middle","color":"#111"},
    "encoding":{"x":{"datum":0.15,"scale":{"domain":[0,3.2],"range":[742,1222],"nice":false,"zero":false},"axis":null},
     "y":{"datum":2.02e-5,"scale":{"type":"log","domain":[1e-7,1e5],"range":[646,103],"nice":false},"axis":null},"text":{"value":"p,p\u0305 × 10⁻⁴"}}},
   {"mark":{"type":"text","fontSize":16,"fontWeight":"bold","align":"left","baseline":"middle","color":"#111"},
    "encoding":{"x":{"datum":0.585,"scale":{"domain":[0,3.2],"range":[742,1222],"nice":false,"zero":false},"axis":null},
     "y":{"datum":45920,"scale":{"type":"log","domain":[1e-7,1e5],"range":[646,103],"nice":false},"axis":null},"text":{"value":"Au+Au @ √sₙₙ = 200 GeV"}}},
   {"mark":{"type":"rule","color":"#c03020","strokeWidth":1.3,"strokeDash":[4,2]},
    "encoding":{"x":{"datum":0.585,"scale":{"domain":[0,3.2],"range":[742,1222],"nice":false,"zero":false},"axis":null},"x2":{"datum":0.817},
     "y":{"datum":11800,"scale":{"type":"log","domain":[1e-7,1e5],"range":[646,103],"nice":false},"axis":null}}},
   {"mark":{"type":"text","fontSize":16,"align":"left","baseline":"middle","color":"#111"},
    "encoding":{"x":{"datum":0.871,"scale":{"domain":[0,3.2],"range":[742,1222],"nice":false,"zero":false},"axis":null},
     "y":{"datum":11800,"scale":{"type":"log","domain":[1e-7,1e5],"range":[646,103],"nice":false},"axis":null},"text":{"value":"Hydro"}}},
   {"mark":{"type":"rule","color":"#8a3030","strokeWidth":1.3},
    "encoding":{"x":{"datum":0.585,"scale":{"domain":[0,3.2],"range":[742,1222],"nice":false,"zero":false},"axis":null},"x2":{"datum":0.7},
     "y":{"datum":3300,"scale":{"type":"log","domain":[1e-7,1e5],"range":[646,103],"nice":false},"axis":null}}},
   {"mark":{"type":"rule","color":"#c08080","strokeWidth":1.3,"strokeDash":[1.5,1.5]},
    "encoding":{"x":{"datum":0.7,"scale":{"domain":[0,3.2],"range":[742,1222],"nice":false,"zero":false},"axis":null},"x2":{"datum":0.817},
     "y":{"datum":3300,"scale":{"type":"log","domain":[1e-7,1e5],"range":[646,103],"nice":false},"axis":null}}},
   {"mark":{"type":"text","fontSize":16,"align":"left","baseline":"middle","color":"#111"},
    "encoding":{"x":{"datum":0.871,"scale":{"domain":[0,3.2],"range":[742,1222],"nice":false,"zero":false},"axis":null},
     "y":{"datum":3300,"scale":{"type":"log","domain":[1e-7,1e5],"range":[646,103],"nice":false},"axis":null},"text":{"value":"[NLO pQCD] × 0.2"}}},
   {"mark":{"type":"rule","color":"#e8432f","strokeWidth":4.5},
    "encoding":{"x":{"datum":0.585,"scale":{"domain":[0,3.2],"range":[742,1222],"nice":false,"zero":false},"axis":null},"x2":{"datum":0.817},
     "y":{"datum":1009,"scale":{"type":"log","domain":[1e-7,1e5],"range":[646,103],"nice":false},"axis":null}}},
   {"mark":{"type":"text","fontSize":16,"align":"left","baseline":"middle","color":"#111"},
    "encoding":{"x":{"datum":0.871,"scale":{"domain":[0,3.2],"range":[742,1222],"nice":false,"zero":false},"axis":null},
     "y":{"datum":1009,"scale":{"type":"log","domain":[1e-7,1e5],"range":[646,103],"nice":false},"axis":null},"text":{"value":"Hydro+pQCD"}}},
   {"mark":{"type":"text","fontSize":46,"align":"left","baseline":"alphabetic","font":"DejaVu Serif","fontStyle":"italic"},
    "encoding":{"x":{"datum":0.0,"scale":{"domain":[0,3.2],"range":[742,1222],"nice":false,"zero":false},"axis":null},
     "y":{"datum":891300,"scale":{"type":"log","domain":[1e-7,1e5],"range":[646,103],"nice":false},"axis":null},"text":{"value":"p"}}},
   {"mark":{"type":"text","fontSize":30,"align":"left","baseline":"alphabetic","font":"DejaVu Serif","fontStyle":"italic"},
    "encoding":{"x":{"datum":0.2,"scale":{"domain":[0,3.2],"range":[742,1222],"nice":false,"zero":false},"axis":null},
     "y":{"datum":593000,"scale":{"type":"log","domain":[1e-7,1e5],"range":[646,103],"nice":false},"axis":null},"text":{"value":"T"}}},
   {"mark":{"type":"text","fontSize":46,"align":"left","baseline":"alphabetic","font":"DejaVu Serif","fontStyle":"italic"},
    "encoding":{"x":{"datum":0.345,"scale":{"domain":[0,3.2],"range":[742,1222],"nice":false,"zero":false},"axis":null},
     "y":{"datum":891300,"scale":{"type":"log","domain":[1e-7,1e5],"range":[646,103],"nice":false},"axis":null},"text":{"value":"/y"}}},
   {"mark":{"type":"text","fontSize":46,"align":"left","baseline":"alphabetic"},
    "encoding":{"x":{"datum":0.787,"scale":{"domain":[0,3.2],"range":[742,1222],"nice":false,"zero":false},"axis":null},
     "y":{"datum":891300,"scale":{"type":"log","domain":[1e-7,1e5],"range":[646,103],"nice":false},"axis":null},"text":{"value":"Spectra"}}},
   {"mark":{"type":"text","fontSize":46,"align":"left","baseline":"alphabetic","font":"DejaVu Serif","fontStyle":"italic","color":"#ff0000"},
    "encoding":{"x":{"datum":2.08,"scale":{"domain":[0,3.2],"range":[742,1222],"nice":false,"zero":false},"axis":null},
     "y":{"datum":891300,"scale":{"type":"log","domain":[1e-7,1e5],"range":[646,103],"nice":false},"axis":null},"text":{"value":"(⟨u"}}},
   {"mark":{"type":"text","fontSize":30,"align":"left","baseline":"alphabetic","font":"DejaVu Serif","fontStyle":"italic","color":"#ff0000"},
    "encoding":{"x":{"datum":2.531,"scale":{"domain":[0,3.2],"range":[742,1222],"nice":false,"zero":false},"axis":null},
     "y":{"datum":2466000,"scale":{"type":"log","domain":[1e-7,1e5],"range":[646,103],"nice":false},"axis":null},"text":{"value":"μ"}}},
   {"mark":{"type":"text","fontSize":46,"align":"left","baseline":"alphabetic","font":"DejaVu Serif","fontStyle":"italic","color":"#ff0000"},
    "encoding":{"x":{"datum":2.667,"scale":{"domain":[0,3.2],"range":[742,1222],"nice":false,"zero":false},"axis":null},
     "y":{"datum":891300,"scale":{"type":"log","domain":[1e-7,1e5],"range":[646,103],"nice":false},"axis":null},"text":{"value":"⟩)"}}}
  ],
  "resolve":{"axis":{"x":"independent","y":"independent"}}
 },
 {
  "layer":[
   {"mark":{"type":"rect","fillOpacity":0,"stroke":"#222","strokeWidth":1.2},
    "encoding":{"x":{"datum":0,"scale":{"domain":[0,2],"range":[1366,1896],"nice":false,"zero":false},"axis":{"orient":"bottom","offset":-169,"tickSize":5,"values":[0,0.5,1,1.5,2],"format":"~g","labelFontSize":27,"labelPadding":20,"title":"pₜ [GeV]","titleFontSize":27,"titlePadding":10}},"x2":{"datum":2},
     "y":{"datum":0,"scale":{"domain":[0,0.2],"range":[557,194],"nice":false,"zero":false},"axis":{"orient":"left","offset":-1371,"tickSize":5,"values":[0,0.05,0.1,0.15,0.2],"format":"~g","labelFontSize":27,"labelPadding":18,"title":null}},"y2":{"datum":0.2}}},
   {"mark":{"type":"rect","fillOpacity":0,"stroke":"#333","strokeWidth":1.2},
    "encoding":{"x":{"datum":0.063,"scale":{"domain":[0,2],"range":[1366,1896],"nice":false,"zero":false},"axis":{"orient":"top","offset":-199,"tickSize":5,"values":[0.5,1,1.5],"labels":false,"title":null}},"x2":{"datum":0.512},
     "y":{"datum":0.1159,"scale":{"domain":[0,0.2],"range":[557,194],"nice":false,"zero":false},"axis":{"orient":"right","offset":-25,"tickSize":5,"values":[0.05,0.1,0.15],"labels":false,"title":null}},"y2":{"datum":0.1961}}},
   {"data":{"name":"fband"},"mark":{"type":"area","opacity":0.45,"interpolate":"monotone"},
    "encoding":{"x":{"field":"pt","type":"quantitative","scale":{"domain":[0,2],"range":[1366,1896],"nice":false,"zero":false},"axis":null},
     "y":{"field":"lo","type":"quantitative","scale":{"domain":[0,0.2],"range":[557,194],"nice":false,"zero":false},"axis":null},"y2":{"field":"hi"},
     "color":{"field":"n","type":"nominal","scale":{"domain":["v2","v3","v4","v5","b2","b3","b4","b5","n2","n3"],"range":["#9b1b14","#1e7b3a","#f5a142","#2050d0","#e8a0a0","#a0d8b0","#f8d0a8","#b0c0f0","#9b1b14","#1e7b3a"]},"legend":null}}},
   {"data":{"name":"fnarrow"},"mark":{"type":"line","strokeWidth":1.2,"interpolate":"monotone"},
    "encoding":{"x":{"field":"pt","type":"quantitative","scale":{"domain":[0,2],"range":[1366,1896],"nice":false,"zero":false},"axis":null},
     "y":{"field":"v","type":"quantitative","scale":{"domain":[0,0.2],"range":[557,194],"nice":false,"zero":false},"axis":null},
     "color":{"field":"n","type":"nominal","scale":{"domain":["v2","v3","v4","v5","b2","b3","b4","b5","n2","n3"],"range":["#9b1b14","#1e7b3a","#f5a142","#2050d0","#e8a0a0","#a0d8b0","#f8d0a8","#b0c0f0","#9b1b14","#1e7b3a"]},"legend":null}}},
   {"data":{"name":"flines"},"mark":{"type":"line","strokeWidth":3.5,"interpolate":"monotone"},
    "encoding":{"x":{"field":"pt","type":"quantitative","scale":{"domain":[0,2],"range":[1366,1896],"nice":false,"zero":false},"axis":null},
     "y":{"field":"v","type":"quantitative","scale":{"domain":[0,0.2],"range":[557,194],"nice":false,"zero":false},"axis":null},
     "color":{"field":"n","type":"nominal","scale":{"domain":["v2","v3","v4","v5","b2","b3","b4","b5","n2","n3"],"range":["#9b1b14","#1e7b3a","#f5a142","#2050d0","#e8a0a0","#a0d8b0","#f8d0a8","#b0c0f0","#9b1b14","#1e7b3a"]},"legend":null},
     "strokeDash":{"field":"n","type":"nominal","scale":{"domain":["v2","v3","v4","v5"],"range":[[1,0],[12,6],[14,5,3,5],[6,4]]},"legend":null}}},
   {"data":{"name":"fpts"},"mark":{"type":"point","filled":true,"color":"#000","size":85,"opacity":1},
    "encoding":{"x":{"field":"pt","type":"quantitative","scale":{"domain":[0,2],"range":[1366,1896],"nice":false,"zero":false},"axis":null},
     "y":{"field":"v","type":"quantitative","scale":{"domain":[0,0.2],"range":[557,194],"nice":false,"zero":false},"axis":null},
     "shape":{"field":"n","type":"nominal","scale":{"domain":["v2","v3","v4","v5"],"range":["circle","triangle-up","square","diamond"]},"legend":null}}},
   {"mark":{"type":"text","fontSize":26,"align":"left","baseline":"alphabetic","lineBreak":"\n","lineHeight":30},
    "encoding":{"x":{"datum":0.0906,"scale":{"domain":[0,2],"range":[1366,1896],"nice":false,"zero":false},"axis":null},
     "y":{"datum":0.1774,"scale":{"domain":[0,0.2],"range":[557,194],"nice":false,"zero":false},"axis":null},"text":{"value":"v\nv\nv\nv"}}},
   {"mark":{"type":"text","fontSize":21,"align":"left","baseline":"alphabetic","lineBreak":"\n","lineHeight":30},
    "encoding":{"x":{"datum":0.135,"scale":{"domain":[0,2],"range":[1366,1896],"nice":false,"zero":false},"axis":null},
     "y":{"datum":0.1719,"scale":{"domain":[0,0.2],"range":[557,194],"nice":false,"zero":false},"axis":null},"text":{"value":"2\n3\n4\n5"}}},
   {"mark":{"type":"rule","color":"#9b1b14","strokeWidth":4},
    "encoding":{"x":{"datum":0.3234,"scale":{"domain":[0,2],"range":[1366,1896],"nice":false,"zero":false},"axis":null},"x2":{"datum":0.4453},
     "y":{"datum":0.1807,"scale":{"domain":[0,0.2],"range":[557,194],"nice":false,"zero":false},"axis":null}}},
   {"mark":{"type":"rule","color":"#1e7b3a","strokeWidth":4,"strokeDash":[12,7]},
    "encoding":{"x":{"datum":0.3234,"scale":{"domain":[0,2],"range":[1366,1896],"nice":false,"zero":false},"axis":null},"x2":{"datum":0.4453},
     "y":{"datum":0.1646,"scale":{"domain":[0,0.2],"range":[557,194],"nice":false,"zero":false},"axis":null}}},
   {"mark":{"type":"rule","color":"#f5a142","strokeWidth":4},
    "encoding":{"x":{"datum":0.3234,"scale":{"domain":[0,2],"range":[1366,1896],"nice":false,"zero":false},"axis":null},"x2":{"datum":0.42},
     "y":{"datum":0.148,"scale":{"domain":[0,0.2],"range":[557,194],"nice":false,"zero":false},"axis":null}}},
   {"mark":{"type":"rule","color":"#2050d0","strokeWidth":4,"strokeDash":[7,9]},
    "encoding":{"x":{"datum":0.3234,"scale":{"domain":[0,2],"range":[1366,1896],"nice":false,"zero":false},"axis":null},"x2":{"datum":0.4453},
     "y":{"datum":0.1306,"scale":{"domain":[0,0.2],"range":[557,194],"nice":false,"zero":false},"axis":null}}},
   {"mark":{"type":"text","fontSize":28,"align":"left","baseline":"middle"},
    "encoding":{"x":{"datum":0.6,"scale":{"domain":[0,2],"range":[1366,1896],"nice":false,"zero":false},"axis":null},
     "y":{"datum":0.1802,"scale":{"domain":[0,0.2],"range":[557,194],"nice":false,"zero":false},"axis":null},"text":{"value":"ATLAS 20-30%, EP"}}},
   {"mark":{"type":"text","fontSize":20,"align":"left","baseline":"middle"},
    "encoding":{"x":{"datum":0.6,"scale":{"domain":[0,2],"range":[1366,1896],"nice":false,"zero":false},"axis":null},
     "y":{"datum":0.1581,"scale":{"domain":[0,0.2],"range":[557,194],"nice":false,"zero":false},"axis":null},"text":{"value":"narrow: η/s(T)"}}},
   {"mark":{"type":"text","fontSize":20,"align":"left","baseline":"middle"},
    "encoding":{"x":{"datum":0.6,"scale":{"domain":[0,2],"range":[1366,1896],"nice":false,"zero":false},"axis":null},
     "y":{"datum":0.1434,"scale":{"domain":[0,0.2],"range":[557,194],"nice":false,"zero":false},"axis":null},"text":{"value":"wide: η/s=0.2"}}},
   {"mark":{"type":"text","fontSize":47,"align":"left","baseline":"alphabetic"},
    "encoding":{"x":{"datum":0.0264,"scale":{"domain":[0,2],"range":[1366,1896],"nice":false,"zero":false},"axis":null},
     "y":{"datum":0.2722,"scale":{"domain":[0,0.2],"range":[557,194],"nice":false,"zero":false},"axis":null},"text":{"value":"Anisotropic Flow"}}},
   {"mark":{"type":"text","fontSize":46,"align":"left","baseline":"alphabetic","font":"DejaVu Serif","fontStyle":"italic","color":"#ff0000"},
    "encoding":{"x":{"datum":1.468,"scale":{"domain":[0,2],"range":[1366,1896],"nice":false,"zero":false},"axis":null},
     "y":{"datum":0.2723,"scale":{"domain":[0,0.2],"range":[557,194],"nice":false,"zero":false},"axis":null},"text":{"value":"(u"}}},
   {"mark":{"type":"text","fontSize":30,"align":"left","baseline":"alphabetic","font":"DejaVu Serif","fontStyle":"italic","color":"#ff0000"},
    "encoding":{"x":{"datum":1.648,"scale":{"domain":[0,2],"range":[1366,1896],"nice":false,"zero":false},"axis":null},
     "y":{"datum":0.2837,"scale":{"domain":[0,0.2],"range":[557,194],"nice":false,"zero":false},"axis":null},"text":{"value":"μ"}}},
   {"mark":{"type":"text","fontSize":46,"align":"right","baseline":"alphabetic","font":"DejaVu Serif","fontStyle":"italic","color":"#ff0000"},
    "encoding":{"x":{"datum":2.045,"scale":{"domain":[0,2],"range":[1366,1896],"nice":false,"zero":false},"axis":null},
     "y":{"datum":0.2723,"scale":{"domain":[0,0.2],"range":[557,194],"nice":false,"zero":false},"axis":null},"text":{"value":"(x))"}}}
  ],
  "resolve":{"axis":{"x":"independent","y":"independent"}}
 },
 {
  "layer":[
   {"mark":{"type":"rect","color":"#c00000","opacity":1},"encoding":{"x":{"datum":0,"scale":{"domain":[0,1],"nice":false,"zero":false},"axis":null},"x2":{"datum":0.00783},"y":{"datum":0,"scale":{"domain":[0,1],"nice":false,"zero":false},"axis":null},"y2":{"datum":1}}},
   {"mark":{"type":"rect","color":"#c00000","opacity":1},"encoding":{"x":{"datum":0,"scale":{"domain":[0,1],"nice":false,"zero":false},"axis":null},"x2":{"datum":1},"y":{"datum":0.98336,"scale":{"domain":[0,1],"nice":false,"zero":false},"axis":null},"y2":{"datum":1}}},
   {"mark":{"type":"rect","color":"#c00000","opacity":1},"encoding":{"x":{"datum":0,"scale":{"domain":[0,1],"nice":false,"zero":false},"axis":null},"x2":{"datum":1},"y":{"datum":0,"scale":{"domain":[0,1],"nice":false,"zero":false},"axis":null},"y2":{"datum":0.01664}}}
  ]
 }
],
"resolve":{
 "scale":{"x":"independent","y":"independent","color":"independent","shape":"independent","strokeDash":"independent","fill":"independent","stroke":"independent"},
 "axis":{"x":"independent","y":"independent"}
}
}
